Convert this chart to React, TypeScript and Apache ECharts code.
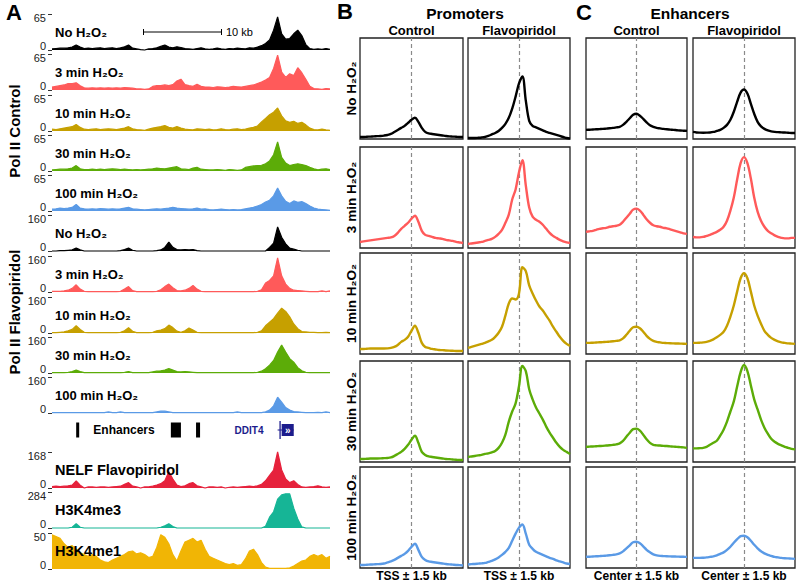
import React, { useEffect, useRef } from 'react';
import * as echarts from 'echarts';

const FONT = '"Liberation Sans", Arial, Helvetica, sans-serif';

// ---------- Panel A: genome browser tracks (70 bins across the DDIT4 locus, % of track scale) ----------
const ctrlNo = [3,4,5,5,6,8,14,8,4,5, 4,5,6,4,5,6,4,6,9,14, 5,3,1,0,3,4,6,10,14,8, 6,9,7,4,3,2,4,6,3,2, 3,5,3,2,4,3,5,4,3,6, 5,8,12,18,28,55,92,45,30,32, 45,55,40,15,4,2,3,2,4,2];
const ctrl3 = [8,10,12,14,18,18,20,12,6,5, 6,5,6,5,6,5,6,5,7,6, 5,3,3,2,3,10,12,12,14,12, 15,25,30,15,12,10,16,10,8,8, 7,9,8,7,8,10,9,8,10,12, 14,18,22,28,35,60,97,50,35,45, 40,62,48,30,10,4,3,2,4,3];
const ctrl10 = [5,4,6,8,10,12,18,10,5,4, 5,6,4,5,6,5,4,6,8,12, 6,4,3,2,5,8,10,12,15,10, 8,12,8,5,4,3,6,5,4,5, 3,4,6,4,3,5,6,4,5,8, 10,14,25,35,45,52,64,42,28,24, 27,21,24,17,8,4,3,5,3,2];
const ctrl30 = [3,4,5,5,6,8,15,6,4,4, 5,4,5,4,5,6,5,4,5,4, 3,4,3,4,5,6,8,7,6,8, 10,12,6,5,4,8,10,5,4,3, 3,4,3,2,4,3,2,3,10,12, 14,15,16,20,28,45,81,38,22,15, 18,20,18,15,10,6,3,5,6,4];
const ctrl100 = [5,6,8,7,8,10,18,8,6,5, 6,5,7,6,5,6,5,6,8,10, 6,5,4,3,4,5,6,5,7,8, 10,8,7,6,5,6,8,5,6,4, 3,4,5,4,3,4,3,4,6,8, 10,14,18,25,30,42,64,42,27,21, 28,24,26,21,14,8,5,4,3,2];
const flavoNo = [0,0,1,1,2,3,8,3,0,0, 0,0,0,0,0,0,0,1,4,8, 2,0,0,0,0,0,1,3,10,25, 10,4,3,4,3,4,1,0,0,0, 0,0,0,0,0,0,0,0,0,0, 0,0,0,0,10,22,67,38,20,8, 5,2,0,0,0,0,0,0,0,0];
const flavo3 = [2,2,2,3,5,10,20,8,2,1, 1,1,1,1,1,1,1,2,8,15, 4,1,1,1,1,1,2,6,15,22, 12,4,3,5,10,18,8,2,1,1, 1,1,1,1,1,1,1,1,1,1, 1,2,6,25,32,45,95,45,22,10, 5,4,3,2,1,1,1,3,1,3];
const flavo10 = [1,1,2,3,6,10,20,10,2,1, 1,1,1,1,1,1,1,2,6,15, 5,1,1,1,1,2,6,8,12,22, 15,5,2,6,14,8,2,1,1,1, 1,1,1,1,1,1,1,1,1,1, 1,2,6,20,30,40,55,69,60,45, 25,12,4,3,2,2,1,1,2,1];
const flavo30 = [1,1,1,1,2,4,8,4,1,1, 1,1,1,1,1,1,1,1,2,4, 1,1,1,1,1,3,5,6,8,12, 8,4,3,4,3,2,1,1,1,1, 1,1,1,1,1,1,1,1,1,1, 1,2,5,12,22,35,58,78,58,40, 30,15,6,2,1,1,1,1,1,1];
const flavo100 = [1,1,1,1,1,1,1,1,1,1, 1,1,1,1,3,1,1,3,1,1, 1,1,1,1,1,1,3,5,5,3, 1,1,1,1,1,1,1,1,1,1, 1,1,1,1,1,1,3,1,1,1, 1,1,1,3,8,20,44,30,15,8, 4,3,2,1,1,1,2,1,3,1];
const nelfFlavo = [4,5,4,5,6,8,20,8,0,3, 3,2,3,3,2,3,4,5,10,15, 5,3,0,3,3,5,8,12,20,45, 25,8,4,6,12,15,6,3,0,3, 3,2,3,0,2,3,2,3,4,5, 4,6,10,20,35,50,100,50,25,15, 20,10,3,2,3,4,6,3,2,3];
const h3k4me3 = [0,0,0,0,0,2,12,2,0,0, 0,0,0,0,0,0,0,0,0,0, 0,0,0,0,0,0,0,2,6,12, 4,0,0,0,0,0,0,0,0,0, 0,0,0,0,0,0,0,0,0,0, 0,0,0,5,30,45,80,92,95,95, 55,25,3,0,0,0,0,0,0,0];
const h3k4me1 = [95,90,85,70,60,65,55,45,40,35, 40,35,25,20,18,25,30,35,40,48, 50,42,45,40,32,35,60,95,88,70, 40,22,50,75,80,85,75,80,55,35, 30,25,20,15,12,15,10,12,28,50, 55,40,18,5,2,2,2,2,2,3, 8,15,22,25,35,40,35,40,30,35];

const trackBins = Array.from({ length: 70 }, (_, i) => i);
const trackValues = [ctrlNo, ctrl3, ctrl10, ctrl30, ctrl100, flavoNo, flavo3, flavo10, flavo30, flavo100, nelfFlavo, h3k4me3, h3k4me1];
const trackNames = ['No H₂O₂', '3 min H₂O₂', '10 min H₂O₂', '30 min H₂O₂', '100 min H₂O₂',
  'No H₂O₂', '3 min H₂O₂', '10 min H₂O₂', '30 min H₂O₂', '100 min H₂O₂',
  'NELF Flavopiridol', 'H3K4me3', 'H3K4me1'];
const trackScales = [65, 65, 65, 65, 65, 160, 160, 160, 160, 160, 168, 284, 50];

// Enhancer and gene annotation (bin coordinates)
const enhancerBins = [[6.0, 6.75], [29.5, 32.0], [35.75, 36.75]];
const geneDDIT4 = [[56.0, 56.45, 57.0, 60.0]];

// ---------- Panels B & C: metaprofiles (x in kb, y in % of panel height) ----------
const profileX = [-1.5,-1.4,-1.3,-1.2,-1.1,-1.0,-0.9,-0.8,-0.7,-0.6,-0.5,-0.4,-0.3,-0.2,-0.1,0,0.1,0.2,0.3,0.4,0.5,0.6,0.7,0.8,0.9,1.0,1.1,1.2,1.3,1.4,1.5];

const promCtrlNo = [2,2,2.2,2.4,2.6,2.8,3,3.4,4,5, 7,9,11,13,16,19,21,17,11,7, 5.5,5,4.5,4,3.5,3,2.6,2.4,2.2,2, 2];
const promFlavoNo = [1,1,1,1.2,1.5,2,3,4.5,6,8, 11,15,21,30,42,55,62,38,18,13, 11.5,10,8.5,7,6,5,4,3,2,1, 0.5];
const promCtrl3 = [6,6.5,7,7.5,8,8.5,9,9.5,10,10.5, 12,15,19,22,25,29,32,26,17,13, 12,11,10,9.5,9,8,7.5,7,6,5.5, 5];
const promFlavo3 = [4,4.5,5,5.5,6,7,8,9,11,14, 18,25,33,48,58,75,87,62,40,31, 28,26,23,19,15,12,10,8,6.5,5.5, 5];
const promCtrl10 = [5,5,5.2,5.4,5.5,5.5,5.5,5.5,5.6,6, 7,9,12,14,17,23,28,21,11,7, 6,5,4.5,4,3.8,3.5,3.3,3.2,3,3, 3];
const promFlavo10 = [6,7,8,9,10,11,12.5,14,17,21, 27,38,50,55,54,60,86,82,68,60, 53,47,43,38,33,27,22,17,13,10, 8];
const promCtrl30 = [3,3,3.2,3.4,3.5,3.5,3.6,3.8,4,4.5, 6,8,10,13,17,22,26,19,10,7, 5.5,5,4.5,4,3.5,3,2.8,2.5,2.2,2, 2];
const promFlavo30 = [5,5.5,6,6.5,7,8,8.5,9.5,11,14, 19,27,40,50,58,75,95,90,72,62, 54,48,42,35,29,24,19,15,12,10, 8];
const promCtrl100 = [3,3,3.2,3.4,3.6,3.8,4,4.5,5.5,6.5, 8,10,12,14,17,21,24,18,11,8, 6.5,6,5.5,5,4.5,4,3.6,3.3,3,2.8, 2.5];
const promFlavo100 = [3.5,3.8,4,4.3,4.6,5,6,7,8.5,10.5, 13,16,20,27,34,40,43,34,23,19, 16,14.5,13,11.5,10,9,7.5,6.5,5.5,4.5, 4];

const enhCtrlNo = [9,9.2,9.4,9.6,9.8,10,10.3,10.6,11,11.5, 12,14,17,20.5,24,25,23,20,16.5,13.5, 12,11,10.5,10,9.6,9.3,9,8.7,8.4,8.2, 8];
const enhFlavoNo = [7,6.5,6.3,6.2,6.3,6.5,7,8,9,11, 14,19,27,37,46,49,45,35,25,17, 12.5,10,8.5,7.5,7,6.8,6.6,6.4,6.2,6, 6];
const enhCtrl3 = [16,16.5,17,18,19,19.5,20,21,21.5,22, 23,26,30,34,38,39,37,33,28.5,25, 22.5,21.5,21,20,19.5,18.5,17.5,16.5,15.5,14.5, 14];
const enhFlavo3 = [11,10.5,10.5,11,12,13,14.5,16,18,21, 27,37,50,68,84,90,84,69,50,36, 27,21,17,14.5,12.5,11,10,9.5,9.5,10, 10];
const enhCtrl10 = [11,11,11.2,11.4,11.6,11.8,12,12.3,12.6,13, 13.5,15.5,19,23,26.5,27,25.5,22,18,15, 13,12,11.5,11,10.8,10.6,10.5,10.4,10.3,10.2, 10];
const enhFlavo10 = [11,11,11.2,11.5,12,13,14.5,16.5,19,22, 28,37,48,62,75,80,75,62,48,38, 30,23,19,16,14,12.5,11.5,11,10.5,10.3, 10];
const enhCtrl30 = [15,15.2,15.4,15.6,15.8,16,16.3,16.6,17,17.5, 18.5,21,25,29,32.5,33,31,27,22.5,19, 17,16.5,16.3,16,15.8,15.5,15.2,15,14.7,14.5, 14];
const enhFlavo30 = [13.5,13.5,13.7,14,15,17,19,21,26,32, 40,50,60,75,89,96,90,76,62,52, 42,34,28,23,20,18,16.5,15,14,13, 12.5];
const enhCtrl100 = [11,11.2,11.4,11.6,11.8,12,12.3,12.6,13,13.5, 14.5,16.5,19.5,22.5,25.5,26,24.5,21.5,18,15.5, 13.5,12.5,12,11.8,11.6,11.5,11.4,11.3,11.2,11.1, 11];
const enhFlavo100 = [10,10,10,10.2,10.5,11,11.5,12.5,14,15.5, 18,21,25,28.5,31.5,32,30.5,27,23,19.5, 16.5,14.5,13,12,11,10.5,10,9.7,9.5,9.3, 9];

const profileColumns = [
  [promCtrlNo, promCtrl3, promCtrl10, promCtrl30, promCtrl100],
  [promFlavoNo, promFlavo3, promFlavo10, promFlavo30, promFlavo100],
  [enhCtrlNo, enhCtrl3, enhCtrl10, enhCtrl30, enhCtrl100],
  [enhFlavoNo, enhFlavo3, enhFlavo10, enhFlavo30, enhFlavo100],
];
const rowLabels = ['No H₂O₂', '3 min H₂O₂', '10 min H₂O₂', '30 min H₂O₂', '100 min H₂O₂'];
const columnHeaders = ['Control', 'Flavopiridol', 'Control', 'Flavopiridol'];
const columnFooters = ['TSS ± 1.5 kb', 'TSS ± 1.5 kb', 'Center ± 1.5 kb', 'Center ± 1.5 kb'];

// ---------- styling / layout ----------
const C_BLACK = '#000000';
const C_RED = '#ff5a5a';
const C_GOLD = '#c6a000';
const C_GREEN = '#5cac08';
const C_BLUE = '#5a9ae6';
const rowColors = [C_BLACK, C_RED, C_GOLD, C_GREEN, C_BLUE];
const trackColors = [...rowColors, ...rowColors, '#e6223c', '#16b596', '#f1b505'];
const trackBaselines = [50, 90, 131, 171, 211, 251, 292, 333, 373, 413, 488, 528, 569];
const TRACK_H = 36;
const TRACK_LEFT = 52;
const TRACK_W = 278;

const colLefts = [360, 468, 586, 693];
const colWidths = [103, 102, 101, 102];
const rowTops = [38, 147, 253, 361, 467];
const ROW_H = 101;

function txt(text: string, x: number, y: number, size: number, opts: any = {}) {
  return {
    type: 'text',
    x, y,
    rotation: opts.rotation || 0,
    silent: true,
    z: 20,
    style: {
      text,
      fill: opts.color || '#000',
      fontSize: size,
      fontWeight: opts.weight || 'bold',
      fontFamily: FONT,
      align: opts.align || 'center',
      verticalAlign: 'middle',
      textAlign: opts.align || 'center',
      textVerticalAlign: 'middle',
    },
  };
}

function buildOption() {
  const grids: any[] = [];
  const xAxes: any[] = [];
  const yAxes: any[] = [];
  const series: any[] = [];
  const graphics: any[] = [];

  // Panel A tracks
  trackValues.forEach((vals, k) => {
    const base = trackBaselines[k];
    const scale = trackScales[k];
    const color = trackColors[k];
    grids.push({ left: TRACK_LEFT, width: TRACK_W, top: base - TRACK_H, height: TRACK_H });
    xAxes.push({ gridIndex: k, type: 'value', min: 0, max: 69, show: false });
    yAxes.push({
      gridIndex: k, type: 'value', min: 0, max: scale, interval: scale,
      axisLine: { show: false },
      splitLine: { show: false },
      axisTick: { show: true, length: 4, lineStyle: { color: '#333', width: 1 } },
      axisLabel: {
        fontSize: 11, color: '#222', fontFamily: FONT, margin: 6, lineHeight: 8,
        formatter: (v: number) => (v === 0 ? '0\n ' : '\n' + v),
      },
    });
    series.push({
      type: 'line', xAxisIndex: k, yAxisIndex: k,
      data: vals.map((v, i) => [trackBins[i], (v * scale) / 100]),
      symbol: 'none', showSymbol: false, clip: false, silent: true,
      lineStyle: { color, width: 1.2 },
      areaStyle: { color, opacity: 1 },
    });
    graphics.push(txt(trackNames[k], 55, base - 18, k >= 10 ? 14.5 : 13, { align: 'left' }));
  });

  // Annotation row (enhancers + gene)
  const annIdx = grids.length;
  grids.push({ left: TRACK_LEFT, width: TRACK_W, top: 420, height: 20 });
  xAxes.push({ gridIndex: annIdx, type: 'value', min: 0, max: 69, show: false });
  yAxes.push({ gridIndex: annIdx, type: 'value', min: 0, max: 1, show: false });
  series.push({
    type: 'custom', xAxisIndex: annIdx, yAxisIndex: annIdx, silent: true,
    data: enhancerBins,
    renderItem: (params: any, api: any) => {
      const s = api.coord([api.value(0), 0.5]);
      const e = api.coord([api.value(1), 0.5]);
      return { type: 'rect', shape: { x: s[0], y: s[1] - 7.5, width: Math.max(e[0] - s[0], 2.5), height: 15 }, style: { fill: '#000' } };
    },
  });
  series.push({
    type: 'custom', xAxisIndex: annIdx, yAxisIndex: annIdx, silent: true,
    data: geneDDIT4,
    renderItem: (params: any, api: any) => {
      const a = api.coord([api.value(0), 0.5]);
      const b = api.coord([api.value(1), 0.5]);
      const c = api.coord([api.value(2), 0.5]);
      const d = api.coord([api.value(3), 0.5]);
      const navy = '#1c1c8c';
      return {
        type: 'group',
        children: [
          { type: 'line', shape: { x1: a[0], y1: a[1], x2: d[0], y2: d[1] }, style: { stroke: navy, lineWidth: 1 } },
          { type: 'rect', shape: { x: b[0], y: b[1] - 9, width: 1.3, height: 18 }, style: { fill: navy } },
          { type: 'rect', shape: { x: c[0], y: c[1] - 6, width: d[0] - c[0], height: 12 }, style: { fill: navy } },
          { type: 'text', x: (c[0] + d[0]) / 2, y: c[1], style: { text: '»', fill: '#fff', fontSize: 10, fontWeight: 'bold', fontFamily: FONT, align: 'center', verticalAlign: 'middle', textAlign: 'center', textVerticalAlign: 'middle' } },
        ],
      };
    },
  });

  // Panels B & C
  profileColumns.forEach((col, c) => {
    col.forEach((vals, r) => {
      const g = grids.length;
      grids.push({
        left: colLefts[c], width: colWidths[c], top: rowTops[r], height: ROW_H,
        show: true, borderColor: '#222', borderWidth: 1.3, backgroundColor: 'transparent',
      });
      xAxes.push({ gridIndex: g, type: 'value', min: -1.5, max: 1.5, show: false });
      yAxes.push({ gridIndex: g, type: 'value', min: 0, max: 100, show: false });
      series.push({
        type: 'line', xAxisIndex: g, yAxisIndex: g,
        data: vals.map((v, i) => [profileX[i], v]),
        smooth: 0.35, symbol: 'none', showSymbol: false, silent: true,
        lineStyle: { color: rowColors[r], width: 2.4 },
        z: 3,
        markLine: {
          silent: true, symbol: ['none', 'none'], label: { show: false },
          lineStyle: { color: '#8a8a8a', type: [4, 3], width: 1.2 },
          data: [{ xAxis: 0 }],
          z: 1,
        },
      });
    });
  });

  // Texts: panel letters, titles
  graphics.push(txt('A', 14, 12, 22));
  graphics.push(txt('B', 345, 11, 22));
  graphics.push(txt('C', 584, 12, 22));
  graphics.push(txt('Promoters', 465, 13, 15.5));
  graphics.push(txt('Enhancers', 690, 13, 15.5));
  columnHeaders.forEach((h, c) => graphics.push(txt(h, colLefts[c] + colWidths[c] / 2, 30, 13)));
  columnFooters.forEach((h, c) => graphics.push(txt(h, colLefts[c] + colWidths[c] / 2, 576, 12)));
  rowLabels.forEach((l, r) => graphics.push(txt(l, 351, rowTops[r] + ROW_H / 2, 13.5, { rotation: Math.PI / 2 })));

  // Panel A side labels and annotations
  graphics.push(txt('Pol II Control', 14, 131, 15, { rotation: Math.PI / 2 }));
  graphics.push(txt('Pol II Flavopiridol', 14, 312, 15, { rotation: Math.PI / 2 }));
  graphics.push(txt('Enhancers', 124, 430, 12));
  graphics.push(txt('DDIT4', 249, 430, 10, { color: '#1c1c8c' }));
  graphics.push({ type: 'line', silent: true, shape: { x1: 143, y1: 32, x2: 222, y2: 32 }, style: { stroke: '#000', lineWidth: 1 } });
  graphics.push({ type: 'line', silent: true, shape: { x1: 143.5, y1: 29, x2: 143.5, y2: 35 }, style: { stroke: '#000', lineWidth: 1 } });
  graphics.push({ type: 'line', silent: true, shape: { x1: 221.5, y1: 29, x2: 221.5, y2: 35 }, style: { stroke: '#000', lineWidth: 1 } });
  graphics.push(txt('10 kb', 226, 32, 11, { align: 'left', weight: 'normal' }));

  return {
    animation: false,
    backgroundColor: '#ffffff',
    grid: grids,
    xAxis: xAxes,
    yAxis: yAxes,
    series,
    graphic: { elements: graphics },
  };
}

export default function App() {
  const ref = useRef<HTMLDivElement>(null);
  useEffect(() => {
    if (!ref.current) return;
    const chart = echarts.init(ref.current, undefined, { renderer: 'svg', width: 796, height: 583 });
    chart.setOption(buildOption() as any);
    return () => chart.dispose();
  }, []);
  return (
    <div
      ref={ref}
      style={{ position: 'fixed', left: 0, top: 0, width: 796, height: 583, background: '#fff' }}
    />
  );
}
